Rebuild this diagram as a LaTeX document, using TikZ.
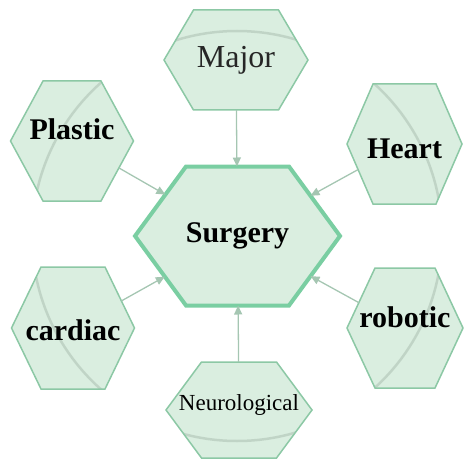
\documentclass[tikz,border=0pt]{standalone}
\usepackage{fontspec}
\setmainfont{Liberation Serif}
\usetikzlibrary{arrows.meta}
\makeatletter
\pgfkeys{/pgf/hex chamfer/.initial=20pt}
\pgfdeclareshape{flathex}{%
  \inheritsavedanchors[from=rectangle]%
  \inheritanchor[from=rectangle]{center}%
  \inheritanchor[from=rectangle]{text}%
  \inheritanchor[from=rectangle]{base}%
  \inheritanchor[from=rectangle]{north}%
  \inheritanchor[from=rectangle]{south}%
  \inheritanchor[from=rectangle]{east}%
  \inheritanchor[from=rectangle]{west}%
  \saveddimen\hexchamf{\pgfmathsetlength\pgf@x{\pgfkeysvalueof{/pgf/hex chamfer}}}%
  \backgroundpath{%
    \southwest \edef\hx@xa{\the\pgf@x}\edef\hx@ya{\the\pgf@y}%
    \northeast \edef\hx@xb{\the\pgf@x}\edef\hx@yb{\the\pgf@y}%
    \pgfmathsetlength\pgf@xc{\hexchamf}\edef\hx@c{\the\pgf@xc}%
    \pgfpathmoveto{\pgfpoint{(\hx@xa)}{0.5*(\hx@ya)+0.5*(\hx@yb)}}%
    \pgfpathlineto{\pgfpoint{(\hx@xa)+(\hx@c)}{(\hx@yb)}}%
    \pgfpathlineto{\pgfpoint{(\hx@xb)-(\hx@c)}{(\hx@yb)}}%
    \pgfpathlineto{\pgfpoint{(\hx@xb)}{0.5*(\hx@ya)+0.5*(\hx@yb)}}%
    \pgfpathlineto{\pgfpoint{(\hx@xb)-(\hx@c)}{(\hx@ya)}}%
    \pgfpathlineto{\pgfpoint{(\hx@xa)+(\hx@c)}{(\hx@ya)}}%
    \pgfpathclose
  }%
  \anchorborder{%
    \edef\hx@dx{\the\pgf@x}\edef\hx@dy{\the\pgf@y}%
    \southwest \edef\hx@xa{\the\pgf@x}\edef\hx@ya{\the\pgf@y}%
    \northeast \edef\hx@xb{\the\pgf@x}\edef\hx@yb{\the\pgf@y}%
    \pgfmathsetlength\pgf@xc{\hexchamf}\edef\hx@c{\the\pgf@xc}%
    \pgfmathsetmacro\hx@hw{0.5*((\hx@xb)-(\hx@xa))}%
    \pgfmathsetmacro\hx@hh{0.5*((\hx@yb)-(\hx@ya))}%
    \pgfmathsetmacro\hx@cx{0.5*((\hx@xb)+(\hx@xa))}%
    \pgfmathsetmacro\hx@cy{0.5*((\hx@yb)+(\hx@ya))}%
    \pgfmathsetmacro\hx@cc{\hx@c}%
    \pgfmathsetmacro\hx@t{\hx@hw-\hx@cc}%
    \pgfmathsetmacro\hx@n{max(abs(\hx@dx),abs(\hx@dy),0.001)}%
    \pgfmathsetmacro\hx@ux{abs(\hx@dx)/\hx@n}%
    \pgfmathsetmacro\hx@uy{abs(\hx@dy)/\hx@n}%
    \pgfmathsetmacro\hx@s{(\hx@ux*\hx@hh <= \hx@t*\hx@uy) ? \hx@hh/max(\hx@uy,0.01) : \hx@hw*\hx@hh/(\hx@hh*\hx@ux+\hx@cc*\hx@uy)}%
    \pgfmathsetmacro\hx@px{\hx@cx + \hx@s*(\hx@dx)/\hx@n}%
    \pgfmathsetmacro\hx@py{\hx@cy + \hx@s*(\hx@dy)/\hx@n}%
    \pgf@x=\hx@px pt\relax
    \pgf@y=\hx@py pt\relax
  }%
}
\makeatother
\definecolor{hexfill}{RGB}{218,238,224}
\definecolor{hexline}{RGB}{140,200,165}
\definecolor{hubline}{RGB}{122,206,162}
\definecolor{arrline}{RGB}{165,198,178}
\definecolor{arcgray}{RGB}{168,188,174}
\begin{document}
\begin{tikzpicture}[x=1pt,y=-1pt,
  hexbox/.style n args={3}{shape=flathex,
    minimum width=#1pt, minimum height=#2pt, hex chamfer=#3pt,
    inner sep=0pt, outer sep=0pt, fill=hexfill, draw=hexline, line width=1.5pt,
    path picture={\draw[arcgray,line width=2.5pt,opacity=.5] (C) circle[radius=205pt];}},
  boldlab/.style={font=\fontsize{30}{32}\selectfont\bfseries, text=black},
  conn/.style={draw=arrline, line width=1.3pt,
    -{Triangle[width=8pt,length=9pt]}}]
\useasboundingbox (0,0) rectangle (464,465);
\coordinate (C) at (237,236);
\node[hexbox={205}{139}{51}, draw=hubline, line width=4pt, boldlab] (surg) at (237.5,236) {Surgery};
\node[hexbox={144}{100}{29.5}, font=\fontsize{32}{34}\selectfont, text=black!85] (major) at (236,60) {Major};
\node[hexbox={123}{120}{32.5}, boldlab, text height=20pt, text depth=22pt] (plastic) at (72,141) {Plastic};
\node[hexbox={115}{120}{26}, boldlab, text height=34pt, text depth=6pt] (heart) at (404.5,144) {Heart};
\node[hexbox={123}{122}{29.5}, boldlab, text height=30pt, text depth=6pt] (cardiac) at (73,328) {cardiac};
\node[hexbox={116}{120}{28}, boldlab, text height=20pt, text depth=22pt] (robotic) at (405,328) {robotic};
\node[hexbox={146}{96}{35.5}, font=\fontsize{23}{25}\selectfont, text height=16pt, text depth=15pt] (neuro) at (239,410) {Neurological};
\draw[conn] (major) -- (surg);
\draw[conn] (plastic) -- (surg);
\draw[conn] (heart) -- (surg);
\draw[conn] (cardiac) -- (surg);
\draw[conn] (robotic) -- (surg);
\draw[conn] (neuro) -- (surg);
\end{tikzpicture}
\end{document}
